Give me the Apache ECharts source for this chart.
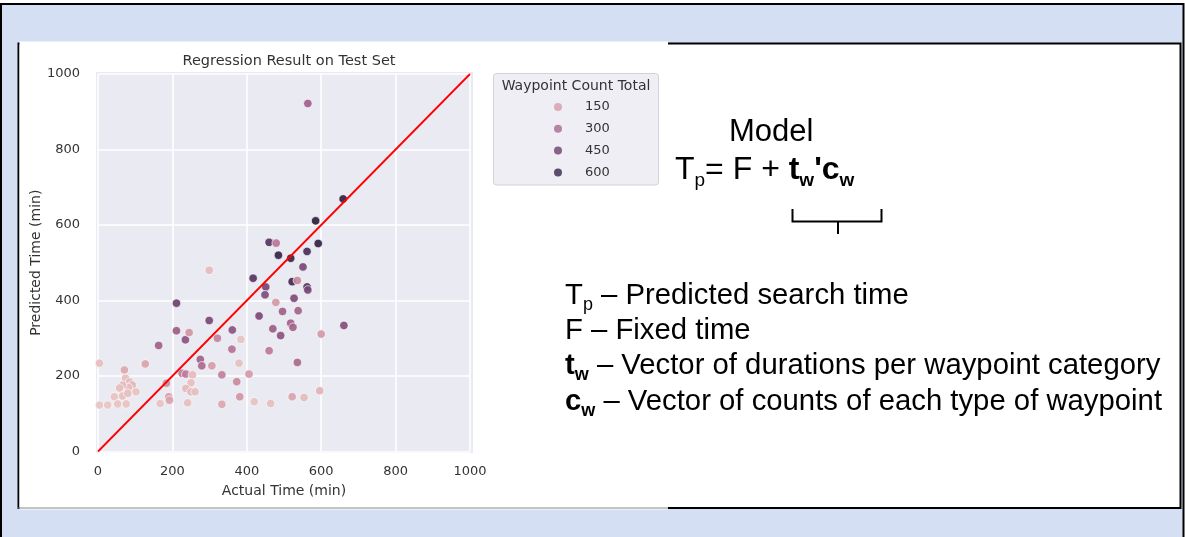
<!DOCTYPE html>
<html>
<head>
<meta charset="utf-8">
<script src="https://cdn.jsdelivr.net/npm/echarts@6/dist/echarts.min.js"></script>
<style>
html,body{margin:0;padding:0;background:#fff;}
#chart{width:1185px;height:537px;}
</style>
</head>
<body>
<div id="chart"></div>
<script>
// ---- data ----
const actualTime = [659,585,592,485,518,562,460,417,522,562,564,
  451,449,551,527,433,491,211,299,361,661,
  564,479,496,538,470,518,524,235,211,163,275,279,536,360,536,
  478,460,245,321,600,226,236,333,406,373,184,381,306,190,192,522,333,127,71,
  299,384,379,254,250,236,250,261,74,85,92,82,66,58,102,44,66,80,4,26,53,76,167,241,420,464,554,596,4];
const predictedTime = [669,611,551,520,512,530,554,459,450,436,428,
  436,415,489,406,359,307,393,347,322,334,
  922,552,371,373,325,340,329,296,320,281,244,227,236,271,453,
  395,267,315,300,311,207,205,203,205,185,181,145,227,145,136,145,125,232,216,
  480,297,234,203,182,167,158,158,194,184,176,170,176,168,158,145,147,154,123,123,126,126,127,129,132,127,143,161,234];
const waypointCount = [625,640,620,610,600,540,500,500,560,500,430,
  430,410,420,410,420,380,450,420,380,400,
  330,260,330,320,340,330,320,380,340,330,330,300,300,270,200,
  160,250,170,220,160,250,240,230,160,200,190,170,150,140,130,130,120,130,120,
  70,50,60,70,60,70,80,60,60,70,80,60,70,60,50,50,60,60,40,40,50,50,50,60,50,60,70,90,60];
const legendCounts = [150, 300, 450, 600];
const axisTicks = [0, 200, 400, 600, 800, 1000];
const identityLine = [[0, 0], [1000, 1000]];

// ---- styles ----
const hueStops = ['#edd1cb', '#d8a1ab', '#b87496', '#894f80', '#51315e', '#2d1e3e'];
const hueMin = 10, hueMax = 640;
function hexToRgb(h){return [1,3,5].map(i=>parseInt(h.substr(i,2),16));}
function hueColor(v){
  let t = Math.max(0, Math.min(1, (v - hueMin) / (hueMax - hueMin)));
  const seg = t * (hueStops.length - 1);
  const i = Math.min(Math.floor(seg), hueStops.length - 2);
  const f = seg - i;
  const a = hexToRgb(hueStops[i]), b = hexToRgb(hueStops[i+1]);
  const c = a.map((x,k)=>Math.round(x + (b[k]-x)*f));
  return 'rgb(' + c.join(',') + ')';
}
const points = actualTime.map((x, i) => [x, predictedTime[i], waypointCount[i]]);
const textCol = '#333';
const plotFont = 'DejaVu Sans';
const slideFont = 'Liberation Sans';

const chart = echarts.init(document.getElementById('chart'), null, {renderer: 'canvas'});

const legendSeries = legendCounts.map(v => ({
  type: 'scatter', name: String(v), data: [],
  symbol: 'circle', itemStyle: {color: hueColor(v)}
}));

const eqRich = {
  n: {fontFamily: slideFont, fontSize: 32, lineHeight: 40, color: '#000'},
  s: {fontFamily: slideFont, fontSize: 19, lineHeight: 23, verticalAlign: 'bottom', color: '#000'},
  b: {fontFamily: slideFont, fontSize: 32, lineHeight: 40, fontWeight: 'bold', color: '#000'},
  bs: {fontFamily: slideFont, fontSize: 19, lineHeight: 23, fontWeight: 'bold', verticalAlign: 'bottom', color: '#000'}
};
const listRich = {
  n: {fontFamily: slideFont, fontSize: 29.3, lineHeight: 36, color: '#000'},
  s: {fontFamily: slideFont, fontSize: 18, lineHeight: 21, verticalAlign: 'bottom', color: '#000'},
  b: {fontFamily: slideFont, fontSize: 29.3, lineHeight: 36, fontWeight: 'bold', color: '#000'},
  bs: {fontFamily: slideFont, fontSize: 18, lineHeight: 21, fontWeight: 'bold', verticalAlign: 'bottom', color: '#000'}
};
const listLines = [
  '{n|T}{s|p}{n| – Predicted search time}',
  '{n|F – Fixed time}',
  '{b|t}{bs|w}{n| – Vector of durations per waypoint category}',
  '{b|c}{bs|w}{n| – Vector of counts of each type of waypoint}'
];
const listY = [296, 331, 366, 402];

const graphics = [
  {type: 'rect', z: -30, shape: {x: 0, y: 0, width: 1185, height: 537}, style: {fill: '#ffffff'}},
  {type: 'rect', z: -29, shape: {x: 1, y: 4, width: 1182.5, height: 545}, style: {fill: '#d4dff3', stroke: '#000', lineWidth: 2}},
  {type: 'rect', z: -28, shape: {x: 18.5, y: 43.5, width: 1162, height: 464.5}, style: {fill: '#ffffff', stroke: '#000', lineWidth: 2}},
  {type: 'rect', z: -27, shape: {x: 19.5, y: 41.5, width: 648.5, height: 468}, style: {fill: '#ffffff'}},
  {type: 'line', z: -26, shape: {x1: 18, y1: 508, x2: 668, y2: 508}, style: {stroke: '#888', lineWidth: 1}},
  {type: 'rect', z: -20, shape: {x: 96, y: 72, width: 377, height: 381}, style: {fill: '#eaeaf2'}},
  // legend frame + title
  {type: 'rect', z: -19, shape: {x: 493.5, y: 73.5, width: 165, height: 111.5, r: 3}, style: {fill: '#eeeef4', stroke: '#d2d2d8', lineWidth: 1}},
  {type: 'text', z: 50, style: {x: 576, y: 86.5, text: 'Waypoint Count Total', fontFamily: plotFont, fontSize: 14, fill: textCol, align: 'center', verticalAlign: 'middle'}},
  // model text
  {type: 'text', z: 50, style: {x: 729, y: 132, text: 'Model', fontFamily: slideFont, fontSize: 31, fill: '#000', align: 'left', verticalAlign: 'middle'}},
  {type: 'text', z: 50, style: {x: 675, y: 170.5, text: "{n|T}{s|p}{n|= F + }{b|t}{bs|w}{b|'c}{bs|w}", rich: eqRich, align: 'left', verticalAlign: 'middle'}},
  {type: 'polyline', z: 50, shape: {points: [[792.5, 209], [792.5, 221.5], [881.5, 221.5], [881.5, 209]]}, style: {stroke: '#000', lineWidth: 2, fill: null}},
  {type: 'line', z: 50, shape: {x1: 838, y1: 221.5, x2: 838, y2: 234}, style: {stroke: '#000', lineWidth: 2}}
].concat(listLines.map((t, i) => ({
  type: 'text', z: 50,
  style: {x: 565, y: listY[i], text: t, rich: listRich, align: 'left', verticalAlign: 'middle'}
})));

const axisCommon = {
  type: 'value', min: 0, max: 1000, interval: 200,
  axisLine: {show: false}, axisTick: {show: false},
  splitLine: {show: true, lineStyle: {color: '#ffffff', width: 1.6}},
  axisLabel: {color: textCol, fontFamily: plotFont, fontSize: 13, formatter: v => String(v)},
  nameTextStyle: {color: textCol, fontFamily: plotFont, fontSize: 14}
};

chart.setOption({
  animation: false,
  title: {
    text: 'Regression Result on Test Set',
    left: 284, top: 49, textAlign: 'center',
    textStyle: {color: textCol, fontFamily: plotFont, fontSize: 14.5, fontWeight: 'normal'}
  },
  grid: {left: 98, top: 74, width: 372, height: 377.5, containLabel: false},
  xAxis: Object.assign({}, axisCommon, {
    name: 'Actual Time (min)', nameLocation: 'middle', nameGap: 33,
    axisLabel: Object.assign({}, axisCommon.axisLabel, {margin: 14})
  }),
  yAxis: Object.assign({}, axisCommon, {
    name: 'Predicted Time (min)', nameLocation: 'middle', nameGap: 53,
    axisLabel: Object.assign({}, axisCommon.axisLabel, {margin: 18})
  }),
  visualMap: {
    type: 'continuous', show: false, seriesIndex: 0, dimension: 2,
    min: hueMin, max: hueMax, inRange: {color: hueStops}
  },
  legend: {
    data: legendCounts.map(String), orient: 'vertical',
    left: 554, top: 100, padding: 0, itemGap: 7.8,
    itemWidth: 8, itemHeight: 8, icon: 'circle', selectedMode: false,
    textStyle: {color: textCol, fontFamily: plotFont, fontSize: 13, lineHeight: 14, padding: [0, 0, 0, 18]}
  },
  graphic: graphics,
  series: [
    {
      type: 'scatter', data: points, symbolSize: 8.5, clip: false, z: 3,
      itemStyle: {borderColor: '#ffffff', borderWidth: 0.7, opacity: 0.92}
    },
    {
      type: 'line', data: identityLine, symbol: 'none', z: 5, silent: true,
      lineStyle: {color: '#ff0000', width: 1.8}
    }
  ].concat(legendSeries)
});
</script>
</body>
</html>
